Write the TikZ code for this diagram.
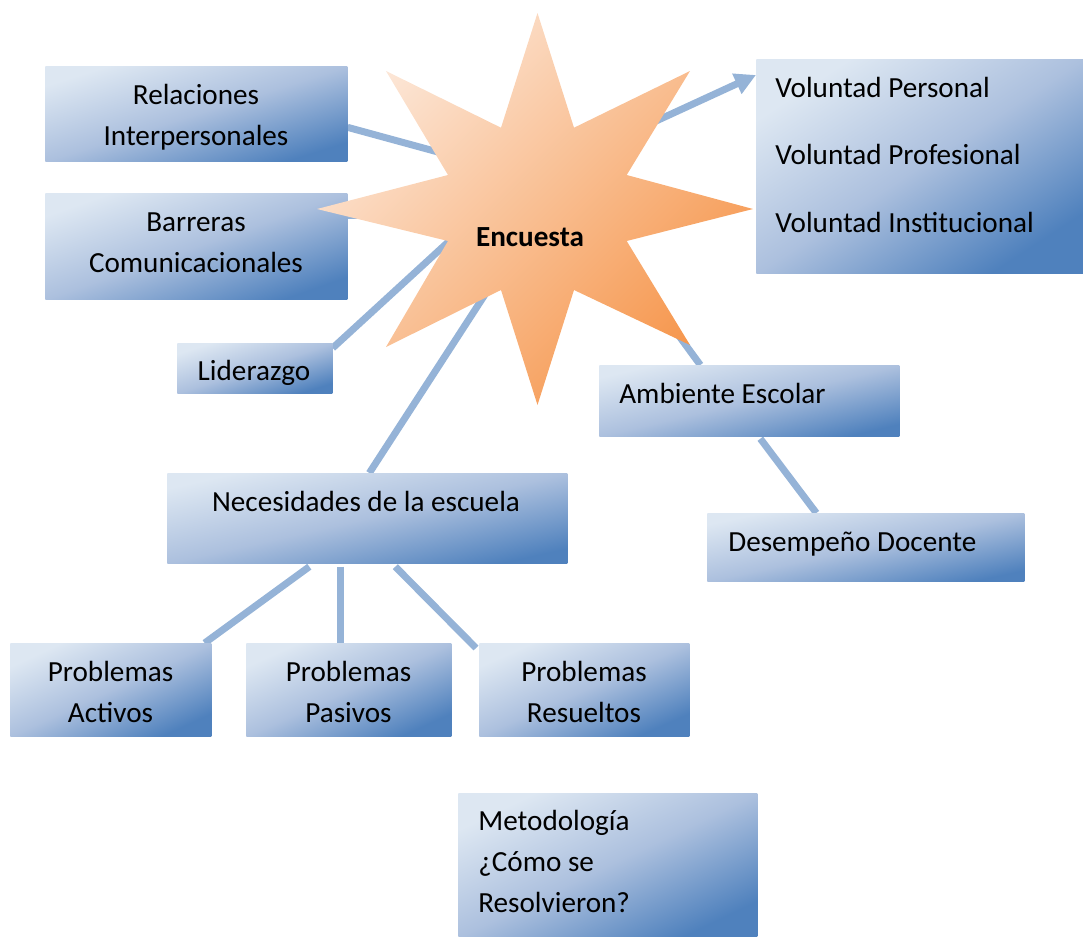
\documentclass[tikz,border=0pt]{standalone}
\usepackage{fontspec}
\setmainfont{Carlito}
\usetikzlibrary{arrows.meta,backgrounds}
\definecolor{boxlight}{RGB}{221,231,242}
\definecolor{boxmid}{RGB}{172,192,222}
\definecolor{boxdark}{RGB}{79,129,189}
\definecolor{starlight}{RGB}{252,231,216}
\definecolor{stardark}{RGB}{246,150,76}
\definecolor{linkblue}{RGB}{149,179,215}
\begin{document}
\begin{tikzpicture}[x=0.02cm,y=-0.02cm,
  % box of #1 x #2 cm, shaded along its diagonal (light top left, dark bottom right)
  box/.style 2 args={minimum width=#1cm, minimum height=#2cm, inner sep=0,
    anchor=north west, shade, top color=boxlight, bottom color=boxdark,
    middle color=boxmid, shading angle={atan(#2/#1)}},
  txt/.style={inner sep=0, font=\fontsize{16.6}{23.2}\selectfont, text=black},
  link/.style={draw=linkblue, line width=0.14cm},
]
\useasboundingbox (0,0) rectangle (1083,937);

% boxes
\node[box={6.04}{1.90}] (rel) at (45,66) {};
\node[box={6.04}{2.12}] (bar) at (45,193) {};
\node[box={3.10}{1.00}] (lid) at (177,343) {};
\node[box={6.54}{4.28}] (vol) at (756,59) {};
\node[box={6.00}{1.42}] (amb) at (599,365) {};
\node[box={6.34}{1.36}] (des) at (707,513) {};
\node[box={8.00}{1.80}] (nec) at (167,473) {};
\node[box={4.02}{1.86}] (act) at (10,643) {};
\node[box={4.10}{1.86}] (pas) at (246,643) {};
\node[box={4.20}{1.86}] (res) at (479,643) {};
\node[box={5.98}{2.88}] (met) at (458,793) {};

% points hidden under the star where the links start
\coordinate (s-rel) at (460,158);
\coordinate (s-bar) at (420,215);
\coordinate (s-lid) at (470,222);
\coordinate (s-nec) at (497,276);
\coordinate (s-vol) at (630,133);
\coordinate (s-amb) at (660,310);

% links
\begin{scope}[on background layer]
  \draw[link] ([yshift=-0.27cm]rel.east) -- (s-rel);
  \draw[link] ([yshift=0.62cm]bar.east) -- (s-bar);
  \draw[link] (s-lid) -- ([yshift=-0.1cm]lid.north east);
  \draw[link] (s-nec) -- ([xshift=0.04cm]nec.north);
  \draw[link, -{Triangle[length=12pt,width=12pt]}] (s-vol) -- ([yshift=-0.32cm]vol.north west);
  \draw[link] (s-amb) -- ([xshift=-0.98cm]amb.north);
  \draw[link] ([xshift=0.22cm,yshift=-0.04cm]amb.south) -- ([xshift=-0.99cm]des.north);
  \draw[link] ([xshift=-1.16cm,yshift=-0.06cm]nec.south) -- ([xshift=-0.14cm]act.north east);
  \draw[link] ([xshift=-0.54cm,yshift=-0.06cm]nec.south) -- ([xshift=-0.54cm]nec.south |- pas.north);
  \draw[link] ([xshift=0.56cm,yshift=-0.06cm]nec.south) -- ([shift={(-0.06cm,-0.1cm)}]res.north west);
\end{scope}

% eight-pointed star
\path[shade, top color=starlight, bottom color=stardark, shading angle=45]
  (537.5,13) -- (574,127.7) -- (690,71) -- (626.7,175) -- (753,209)
  -- (626.7,241) -- (690,345) -- (574,290) -- (537.5,405) -- (501,290)
  -- (386,347) -- (448,241) -- (317,209) -- (448,175) -- (386,71)
  -- (501,127.7) -- cycle;
\node[txt, font=\fontsize{16.6}{23.2}\selectfont\bfseries, anchor=base] (enc) at (530,246) {Encuesta};

% labels (base anchor sits on the last line)
\node[txt, anchor=base, align=center] (rel-t) at (196,145) {Relaciones\\Interpersonales};
\node[txt, anchor=base, align=center] (bar-t) at (196,272) {Barreras\\Comunicacionales};
\node[txt, anchor=base] (lid-t) at (254,380) {Liderazgo};
\node[txt, anchor=base west, align=left] (vol-t) at (775,232)
  {Voluntad Personal\\[15pt]Voluntad Profesional\\[15pt]Voluntad Institucional};
\node[txt, anchor=base west] (amb-t) at (619,403) {Ambiente Escolar};
\node[txt, anchor=base west] (des-t) at (728,551) {Desempeño Docente};
\node[txt, anchor=base] (nec-t) at (366,511) {Necesidades de la escuela};
\node[txt, anchor=base, align=center] (act-t) at (110.5,722) {Problemas\\Activos};
\node[txt, anchor=base, align=center] (pas-t) at (348.5,722) {Problemas\\Pasivos};
\node[txt, anchor=base, align=center] (res-t) at (584,722) {Problemas\\Resueltos};
\node[txt, anchor=base west, align=left] (met-t) at (478,912)
  {Metodología\\¿Cómo se\\Resolvieron?};
\end{tikzpicture}
\end{document}
